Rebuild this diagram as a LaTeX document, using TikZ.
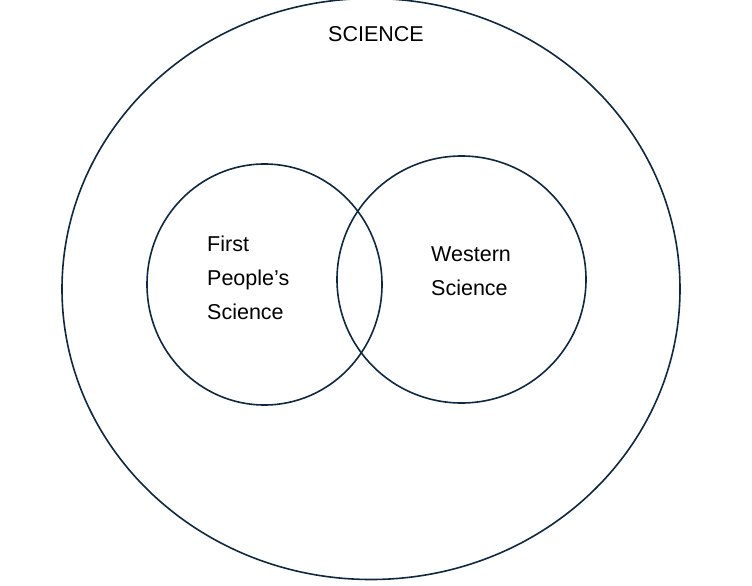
\documentclass[tikz,border=0pt]{standalone}
\usepackage{fontspec}
\setmainfont{Liberation Sans}
\definecolor{navy}{HTML}{0E2841}
\begin{document}
\begin{tikzpicture}[x=1pt,y=-1pt,
  ring/.style={draw=navy,line width=1.6pt},
  lbl/.style={font=\fontsize{21.5}{34}\selectfont,align=left,inner sep=0pt,text=black}]
\useasboundingbox (0,0) rectangle (752,586);
\draw[ring] (371,289) ellipse [x radius=309, y radius=290.5];
\draw[ring] (264.5,284.5) ellipse [x radius=117.5, y radius=120.5];
\draw[ring] (461.5,279.5) ellipse [x radius=124.5, y radius=123.5];
\node[lbl,anchor=center] (sci) at (376,34) {SCIENCE};
\node[lbl,anchor=west] (fps) at (207,278) {First\\People’s\\Science};
\node[lbl,anchor=west] (ws) at (431,271) {Western\\Science};
\end{tikzpicture}
\end{document}
